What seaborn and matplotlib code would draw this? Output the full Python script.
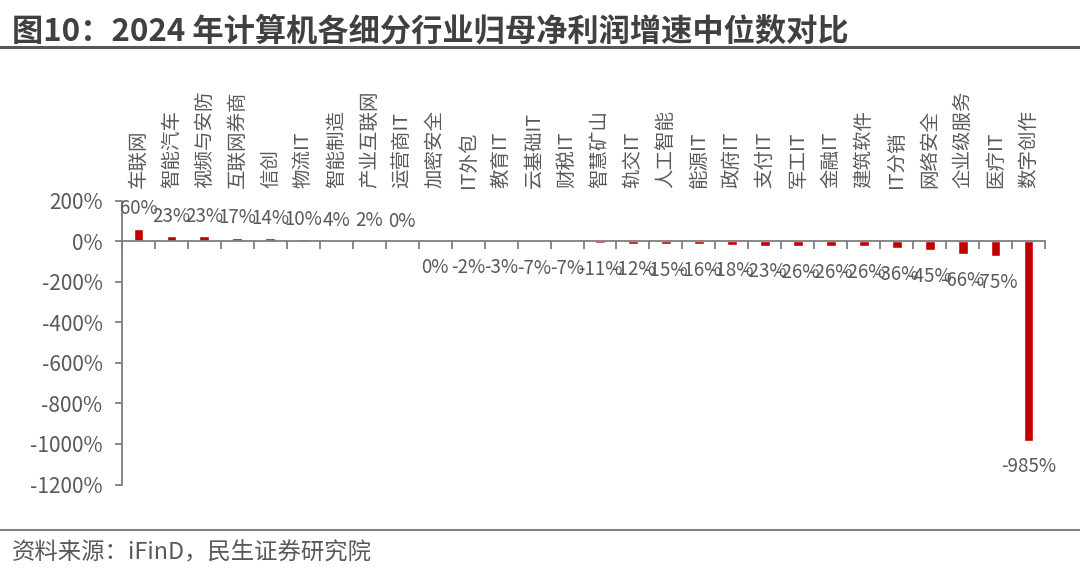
import matplotlib
matplotlib.use("Agg")
import matplotlib.pyplot as plt
from matplotlib.lines import Line2D
from matplotlib.ticker import FixedLocator, FuncFormatter
import seaborn as sns

# 2024 median growth of net profit attributable to parent, by computer sub-sector (%)
categories = [
    "车联网", "智能汽车", "视频与安防", "互联网券商", "信创", "物流IT", "智能制造",
    "产业互联网", "运营商IT", "加密安全", "IT外包", "教育IT", "云基础IT", "财税IT",
    "智慧矿山", "轨交IT", "人工智能", "能源IT", "政府IT", "支付IT", "军工IT",
    "金融IT", "建筑软件", "IT分销", "网络安全", "企业级服务", "医疗IT", "数字创作",
]
growth = [
    60, 23, 23, 17, 14, 10, 4,
    2, 0.2, -0.3, -2, -3, -7, -7,
    -11, -12, -15, -16, -18, -23, -26,
    -26, -26, -36, -45, -66, -75, -985,
]
y_ticks = [200, 0, -200, -400, -600, -800, -1000, -1200]

title = "图10：2024 年计算机各细分行业归母净利润增速中位数对比"
source = "资料来源：iFinD，民生证券研究院"

BAR = "#C00000"
TEXT = "#595959"
AXIS = "#7F7F7F"

sns.set_style("white")
plt.rcParams["font.family"] = ["Noto Sans CJK SC", "DejaVu Sans"]
plt.rcParams["axes.unicode_minus"] = False

W, H = 1080, 569
fig = plt.figure(figsize=(W / 100, H / 100), dpi=100)
ax = fig.add_axes([122 / W, 1 - 484.5 / H, (1045 - 122) / W, (484.5 - 200.5) / H])

sns.barplot(x=categories, y=growth, color=BAR, saturation=1, width=0.3, ax=ax)

n = len(categories)
ax.set_xlim(-0.5, n - 0.5)
ax.set_ylim(-1200, 200)

# y axis
ax.yaxis.set_major_locator(FixedLocator(y_ticks))
ax.yaxis.set_major_formatter(FuncFormatter(lambda v, _: f"{v:.0f}%"))
ax.tick_params(axis="y", which="major", left=True, length=5, width=1.3,
               color=AXIS, labelsize=15, labelcolor=TEXT, pad=9)

# category labels on top, boundary ticks on the zero line
ax.set_xticks(range(n))
ax.set_xticklabels(categories)
ax.xaxis.set_minor_locator(FixedLocator([k + 0.5 for k in range(-1, n)]))
ax.tick_params(axis="x", which="major", bottom=False, top=False,
               labelbottom=False, labeltop=True, length=0, pad=9,
               labelrotation=90, labelsize=14, labelcolor=TEXT)
ax.tick_params(axis="x", which="minor", bottom=True, top=False,
               direction="out", length=6, width=1.3, color=AXIS)
ax.set_xlabel("")
ax.set_ylabel("")

for side in ("top", "right"):
    ax.spines[side].set_visible(False)
ax.spines["bottom"].set_position(("data", 0))
for side in ("left", "bottom"):
    ax.spines[side].set_color(AXIS)
    ax.spines[side].set_linewidth(1.3)

# value labels
for i, v in enumerate(growth):
    label = f"{round(v):.0f}%"
    off = 20 if v >= 0 else -26
    ax.annotate(label, (i, v), xytext=(0, off), textcoords="offset pixels",
                ha="center", va="center", fontsize=13.5, color=TEXT)

# header, rules and source
fig.text(12 / W, 1 - 31 / H, title, fontsize=22.5, fontweight="bold",
         color="#404040", ha="left", va="center")
fig.add_artist(Line2D([0, 1], [1 - 47 / H, 1 - 47 / H], color="#595959",
                      linewidth=2.2, transform=fig.transFigure))
fig.add_artist(Line2D([0, 1], [1 - 530 / H, 1 - 530 / H], color="#7F7F7F",
                      linewidth=1.5, transform=fig.transFigure))
fig.text(12 / W, 1 - 553 / H, source, fontsize=16.8, color=TEXT,
         ha="left", va="center")

fig.savefig("out.png", dpi=100)
